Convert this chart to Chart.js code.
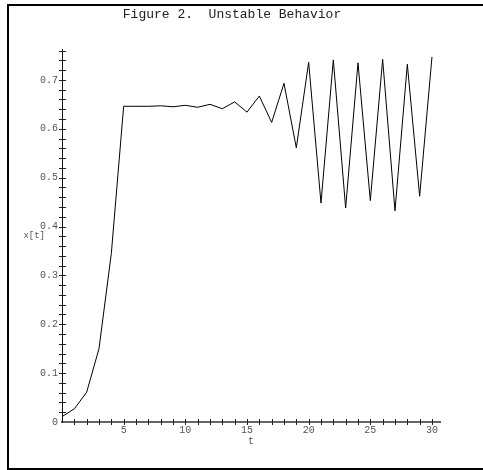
<!DOCTYPE html>
<html><head><meta charset="utf-8">
<script src="https://cdn.jsdelivr.net/npm/chart.js@4/dist/chart.umd.min.js"></script>
<style>
html,body{margin:0;padding:0;background:#fff;overflow:hidden;width:483px;height:470px}
#wrap{position:relative;width:483px;height:470px;overflow:hidden}
.ln{position:absolute;background:#000;pointer-events:none}
#lt{left:7px;top:4px;width:476px;height:2px}
#ll{left:7px;top:4px;width:2px;height:466px}
#lb{left:7px;top:468px;width:476px;height:2px}
canvas{position:absolute;left:0;top:0}
</style></head><body>
<div id="wrap"><canvas id="c" width="483" height="470"></canvas><div class="ln" id="lt"></div><div class="ln" id="ll"></div><div class="ln" id="lb"></div></div>
<script>
const chartTitle = 'Figure 2.  Unstable Behavior';
const xAxisLabel = 't';
const yAxisLabel = 'x[t]';
const tValues = [0,1,2,3,4,5,6,7,8,9,10,11,12,13,14,15,16,17,18,19,20,21,22,23,24,25,26,27,28,29,30];
const xValues = [0.011,0.027,0.061,0.150,0.345,0.646,0.646,0.646,0.647,0.645,0.648,0.644,0.650,0.641,0.655,0.634,0.667,0.613,0.693,0.561,0.736,0.448,0.741,0.438,0.735,0.453,0.742,0.432,0.732,0.462,0.747];
const xMajorTicks = [5,10,15,20,25,30];
const xMinorTicks = [0,1,2,3,4,5,6,7,8,9,10,11,12,13,14,15,16,17,18,19,20,21,22,23,24,25,26,27,28,29,30];
const yMajorTicks = [0,0.1,0.2,0.3,0.4,0.5,0.6,0.7];
const yMajorLabels = ['0','0.1','0.2','0.3','0.4','0.5','0.6','0.7'];
const yMinorTicks = [0,0.02,0.04,0.06,0.08,0.1,0.12,0.14,0.16,0.18,0.2,0.22,0.24,0.26,0.28,0.3,0.32,0.34,0.36,0.38,0.4,0.42,0.44,0.46,0.48,0.5,0.52,0.54,0.56,0.58,0.6,0.62,0.64,0.66,0.68,0.7,0.72,0.74,0.76];

const MONO = '"Liberation Mono", "Courier New", monospace';

const axisDecor = {
  id: 'axisDecor',
  afterDraw(chart) {
    const {ctx, scales: {x, y}} = chart;
    const y0 = y.getPixelForValue(0);
    const x0 = x.getPixelForValue(0);
    ctx.save();
    ctx.strokeStyle = '#222';
    ctx.lineWidth = 1;
    ctx.beginPath();
    x.ticks.forEach(t => {
      if (t.value === 0) return;
      const px = Math.round(x.getPixelForValue(t.value)) + 0.5;
      ctx.moveTo(px, y0 - 3); ctx.lineTo(px, y0 + 3);
    });
    y.ticks.forEach(t => {
      if (t.value === 0) return;
      const py = Math.round(y.getPixelForValue(t.value)) + 0.5;
      ctx.moveTo(x0 - 3, py); ctx.lineTo(x0 + 4, py);
    });
    ctx.stroke();
    ctx.font = '9px ' + MONO;
    ctx.fillStyle = '#555';
    ctx.textAlign = 'right';
    ctx.textBaseline = 'middle';
    ctx.fillText(yAxisLabel, x0 - 17, (y.top + y.bottom) / 2);
    ctx.restore();
  }
};

new Chart(document.getElementById('c'), {
  type: 'line',
  data: {
    datasets: [{
      data: tValues.map((t, i) => ({x: t, y: xValues[i]})),
      borderColor: '#000',
      borderWidth: 1,
      pointRadius: 0,
      tension: 0,
      fill: false
    }]
  },
  options: {
    responsive: false,
    animation: false,
    events: [],
    layout: {padding: {left: 24, right: 43, top: 0, bottom: 0}},
    plugins: {
      legend: {display: false},
      tooltip: {enabled: false},
      title: {
        display: true,
        text: chartTitle,
        color: '#222',
        font: {family: MONO, size: 13, weight: 'normal'},
        padding: {top: 7, bottom: 27}
      }
    },
    scales: {
      x: {
        type: 'linear',
        min: 0, max: 30.65,
        afterBuildTicks: s => { s.ticks = xMinorTicks.map(v => ({value: v})); },
        afterFit: s => { s.height = 48; },
        ticks: {
          autoSkip: false, maxRotation: 0, padding: 2,
          color: '#555',
          font: {family: MONO, size: 10},
          callback: v => xMajorTicks.includes(v) ? String(v) : ''
        },
        grid: {drawOnChartArea: false, drawTicks: false},
        border: {color: '#666', width: 2},
        title: {display: true, text: xAxisLabel, color: '#555', font: {family: MONO, size: 10}, padding: {top: 0, bottom: 23}}
      },
      y: {
        type: 'linear',
        min: 0, max: 0.762,
        afterBuildTicks: s => { s.ticks = yMinorTicks.map(v => ({value: v})); },
        afterFit: s => { s.width = 38; },
        ticks: {
          autoSkip: false, padding: 4,
          color: '#555',
          font: {family: MONO, size: 10},
          callback: v => {
            const i = yMajorTicks.findIndex(m => Math.abs(m - v) < 1e-9);
            return i >= 0 ? yMajorLabels[i] : '';
          }
        },
        grid: {drawOnChartArea: false, drawTicks: false},
        border: {color: '#111', width: 1}
      }
    }
  },
  plugins: [axisDecor]
});
</script>
</body></html>
